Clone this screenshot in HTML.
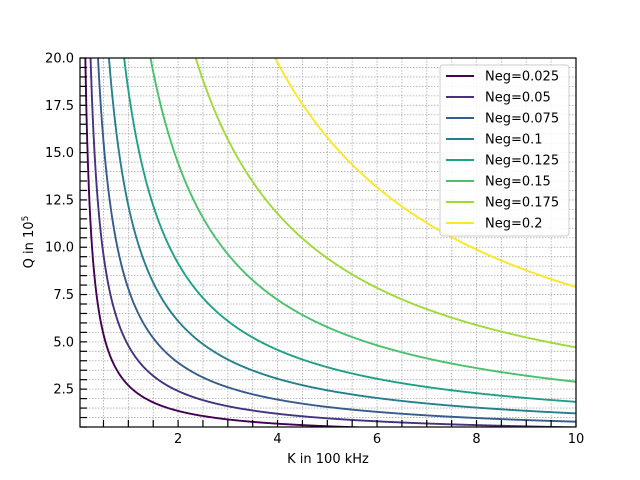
<!DOCTYPE html>
<html><head><meta charset="utf-8"><style>
body{margin:0;background:#fff;}
svg{display:block;font-family:"DejaVu Sans","Liberation Sans",sans-serif;}
</style></head><body>
<svg id="chart" width="640" height="480" viewBox="0 0 640 480" xmlns="http://www.w3.org/2000/svg">
<defs><clipPath id="clip"><rect x="80" y="58" width="496" height="369"/></clipPath></defs>
<rect width="640" height="480" fill="#fff"/>
<g id="grid"></g>
<g id="series" clip-path="url(#clip)"></g>
<g id="axes"></g>
<text x="328" y="463" font-size="13" text-anchor="middle">K in 100 kHz</text>
<text transform="translate(33,242) rotate(-90)" font-size="13" text-anchor="middle">Q in 10<tspan dy="-5" font-size="9">5</tspan></text>
<g id="legend"></g>
</svg>
<script>
const negLabels = ["0.025","0.05","0.075","0.1","0.125","0.15","0.175","0.2"];
const coeffs = [2.7, 4.8, 7.8, 12.2, 18.3, 28.9, 47.1, 79];
const colors = ["#440154","#46327e","#365c8d","#277f8e","#1fa187","#4ac16d","#a0da39","#fde725"];
const xTicks = [2,4,6,8,10];
const yTicks = [2.5,5.0,7.5,10.0,12.5,15.0,17.5,20.0];

const X0=80,X1=576,Y0=427,Y1=58;
const xmin=0.028,xmax=10,ymin=0.5,ymax=20;
const sx=v=>X0+(v-xmin)/(xmax-xmin)*(X1-X0);
const sy=v=>Y0-(v-ymin)/(ymax-ymin)*(Y0-Y1);
const NS="http://www.w3.org/2000/svg";
function mk(tag,attrs,parent){const e=document.createElementNS(NS,tag);for(const k in attrs)e.setAttribute(k,attrs[k]);parent.appendChild(e);return e;}
const grid=document.getElementById('grid'),axes=document.getElementById('axes'),series=document.getElementById('series'),legend=document.getElementById('legend');

for(let v=0.5;v<=10.001;v+=0.5){const x=sx(v);if(x<X0)continue;
 const l=mk('line',{x1:x,x2:x,y1:Y1,y2:Y0,stroke:'#aaa','stroke-width':0.8,'stroke-dasharray':'1.5,1.5'},grid);
 
 const t=mk('line',{x1:x,x2:x,y1:Y0,y2:Y0-7,stroke:'#000','stroke-width':1.2},axes);
 }
for(let v=0.5;v<=20.001;v+=0.5){const y=sy(v);
 const l=mk('line',{x1:X0,x2:X1,y1:y,y2:y,stroke:'#aaa','stroke-width':0.8,'stroke-dasharray':'1.5,1.5'},grid);
 
 const t=mk('line',{x1:X0,x2:X0+7,y1:y,y2:y,stroke:'#000','stroke-width':1.2},axes);
 }
xTicks.forEach(v=>{const t=mk('text',{x:sx(v),y:Y0+16,'font-size':13,'text-anchor':'middle'},axes);t.textContent=v;
 });
yTicks.forEach(v=>{const t=mk('text',{x:X0-6,y:sy(v)+4.5,'font-size':13,'text-anchor':'end'},axes);t.textContent=v.toFixed(1);
 });
const frame=mk('rect',{x:X0,y:Y1,width:X1-X0,height:Y0-Y1,fill:'none',stroke:'#000','stroke-width':1.2},axes);


coeffs.forEach((c,i)=>{let d='';const n=600;
 const kmin=Math.max(xmin,c/(ymax*1.1));
 for(let j=0;j<=n;j++){const k=kmin+(xmax-kmin)*j/n;d+=(j?'L':'M')+sx(k).toFixed(2)+','+sy(c/k).toFixed(2);}
 const p=mk('path',{d:d,fill:'none',stroke:colors[i],'stroke-width':1.9},series);
 });

const lb=mk('rect',{x:440,y:65,width:129,height:171,rx:3,fill:'#fff','fill-opacity':0.85,stroke:'#ccc','stroke-width':1},legend);

negLabels.forEach((s,i)=>{const y=76+i*21;
 const g=mk('g',{},legend);
 mk('line',{x1:446,x2:474,y1:y,y2:y,stroke:colors[i],'stroke-width':1.9},g);
 const t=mk('text',{x:485,y:y+4.5,'font-size':13},g);t.textContent='Neg='+s;});
</script>
</body></html>
